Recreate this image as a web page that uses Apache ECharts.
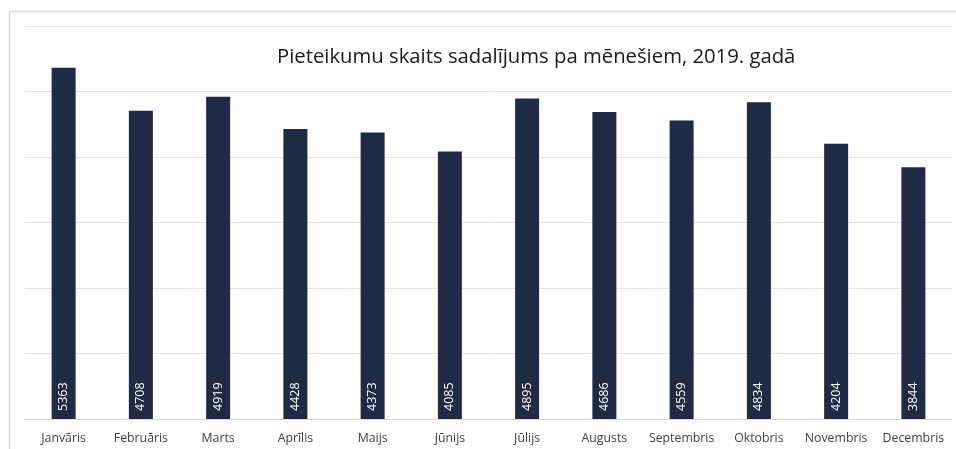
<!DOCTYPE html>
<html>
<head>
<meta charset="utf-8">
<script src="https://cdn.jsdelivr.net/npm/echarts@6/dist/echarts.min.js"></script>
<style>
  html, body { margin: 0; padding: 0; background: #fff; }
  #main { width: 956px; height: 449px; }
</style>
</head>
<body>
<div id="main"></div>
<script>
// mēneši un pieteikumu skaits
var months = ["Janvāris", "Februāris", "Marts", "Aprīlis", "Maijs", "Jūnijs",
  "Jūlijs", "Augusts", "Septembris", "Oktobris", "Novembris", "Decembris"]
var counts = [5363, 4708, 4919, 4428, 4373, 4085, 4895, 4686, 4559, 4834, 4204, 3844]
var yTicks = [0, 1000, 2000, 3000, 4000, 5000, 6000]

var myChart = echarts.init(document.getElementById("main"))
var option = {
  animation: false,
  textStyle: { fontFamily: "Open Sans" },
  title: {
    text: "Pieteikumu skaits sadalījums pa mēnešiem, 2019. gadā",
    left: 272,
    top: 42,
    textStyle: {
      fontFamily: "Open Sans",
      fontSize: 20.3,
      fontWeight: "normal",
      color: "#1a1a1a"
    }
  },
  graphic: [
    {
      type: "rect",
      left: 7,
      top: 9,
      shape: { width: 960, height: 460 },
      style: { fill: "none", stroke: "#d9d9d9", lineWidth: 1.5 },
      z: -1
    }
  ],
  grid: { left: 25, right: 4, top: 26, bottom: 30 },
  xAxis: {
    type: "category",
    data: months,
    axisLine: { lineStyle: { color: "#d9d9d9" } },
    axisTick: { show: false },
    axisLabel: { interval: 0, color: "#404040", fontSize: 12.3, margin: 13 }
  },
  yAxis: {
    type: "value",
    min: yTicks[0],
    max: yTicks[yTicks.length - 1],
    interval: 1000,
    axisLabel: { show: false },
    axisLine: { show: false },
    axisTick: { show: false },
    splitLine: { lineStyle: { color: "#e3e3e3" } }
  },
  series: [
    {
      type: "bar",
      data: counts,
      barWidth: 24,
      itemStyle: { color: "#1f2a44" },
      label: {
        show: true,
        position: "insideBottom",
        rotate: 90,
        align: "left",
        verticalAlign: "middle",
        distance: 8,
        color: "#fff",
        fontSize: 12.5
      }
    }
  ]
}
myChart.setOption(option)
</script>
</body>
</html>
